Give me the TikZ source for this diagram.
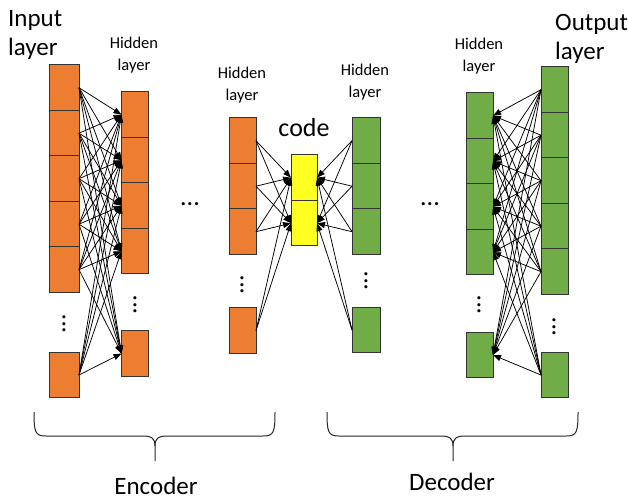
\documentclass[tikz,border=0pt]{standalone}
\usepackage{fontspec}
\setmainfont{Carlito}
\usetikzlibrary{arrows.meta}
\definecolor{encorange}{HTML}{ED7D31}
\definecolor{decgreen}{HTML}{70AD47}
\definecolor{codeyellow}{HTML}{FFFF22}

\begin{document}
\begin{tikzpicture}[
        x=1pt, y=-1pt,
        line/.style={-{Triangle[length=8pt, width=6pt]}, line width=0.75pt},
        cell/.style={draw=black!80, line width=1pt, inner sep=0pt, outer sep=0pt, minimum height=45.5pt},
        enccell/.style={cell, fill=encorange},
        deccell/.style={cell, fill=decgreen},
        codecell/.style={cell, fill=codeyellow},
        biglabel/.style={font=\fontsize{25}{29}\selectfont, align=left, anchor=base west, inner sep=0pt},
        smalllabel/.style={font=\fontsize{16.5}{22}\selectfont, align=center, anchor=base, inner sep=0pt},
        partlabel/.style={font=\fontsize{25}{29}\selectfont, anchor=base, inner sep=0pt},
        dots/.style={font=\fontsize{26}{26}\selectfont, inner sep=0pt},
        brace/.style={line width=1pt, black!85}
    ]
    \useasboundingbox (0,0) rectangle (628,500);

    % columns of cells
    \foreach \i in {1,...,5}
        \node[enccell, minimum width=30pt] (in\i) at (64, {87.7+45.5*(\i-1)}) {};
    \node[enccell, minimum width=30pt] (in6) at (64, 375) {};

    \foreach \i in {1,...,4}
        \node[enccell, minimum width=27pt] (ea\i) at (135, {114.7+45.5*(\i-1)}) {};
    \node[enccell, minimum width=27pt] (ea5) at (135, 353.5) {};

    \foreach \i in {1,...,3}
        \node[enccell, minimum width=27pt] (eb\i) at (242.5, {140.7+45.5*(\i-1)}) {};
    \node[enccell, minimum width=27pt] (eb4) at (242.5, 330.5) {};

    \node[codecell, minimum width=26pt] (code1) at (304, 177.7) {};
    \node[codecell, minimum width=26pt] (code2) at (304, 223.2) {};

    \foreach \i in {1,...,3}
        \node[deccell, minimum width=28pt] (da\i) at (366, {140.7+45.5*(\i-1)}) {};
    \node[deccell, minimum width=28pt] (da4) at (366, 330) {};

    \foreach \i in {1,...,4}
        \node[deccell, minimum width=27pt] (db\i) at (479.5, {115.7+45.5*(\i-1)}) {};
    \node[deccell, minimum width=27pt] (db5) at (479.5, 355) {};

    \foreach \i in {1,...,5}
        \node[deccell, minimum width=27pt] (out\i) at (554.5, {89.7+45.5*(\i-1)}) {};
    \node[deccell, minimum width=27pt] (out6) at (554.5, 375) {};

    % connections
    \foreach \i in {1,...,6}
        \foreach \j in {1,...,5}
            \draw[line] (in\i.east) -- (ea\j.west);
    \foreach \i in {1,...,4}
        \foreach \j in {1,2}
            \draw[line] (eb\i.east) -- (code\j.west);
    \foreach \i in {1,...,4}
        \foreach \j in {1,2}
            \draw[line] (da\i.west) -- (code\j.east);
    \foreach \i in {1,...,6}
        \foreach \j in {1,...,5}
            \draw[line] (out\i.west) -- (db\j.east);

    % labels (base = last line)
    \node[biglabel] (inlabel) at (8,56) {Input\\layer};
    \node[biglabel] (outlabel) at (555,60) {Output\\layer};
    \node[smalllabel] (ealabel) at (134,71) {Hidden\\layer};
    \node[smalllabel] (eblabel) at (242,101) {Hidden\\layer};
    \node[smalllabel] (dalabel) at (365,98) {Hidden\\layer};
    \node[smalllabel] (dblabel) at (479,72) {Hidden\\layer};
    \node[font=\fontsize{26}{30}\selectfont, anchor=base, inner sep=0pt] (codelabel) at (304,136) {code};
    \node[partlabel] (enclabel) at (156,494) {Encoder};
    \node[partlabel] (declabel) at (452,490) {Decoder};

    % dots
    \node[dots] (hdots1) at (190,204) {...};
    \node[dots] (hdots2) at (430,204) {...};
    \node[dots, rotate=90] (vdots1) at (64,324) {...};
    \node[dots, rotate=90] (vdots2) at (135,305) {...};
    \node[dots, rotate=90] (vdots3) at (242,285) {...};
    \node[dots, rotate=90] (vdots4) at (366,281) {...};
    \node[dots, rotate=90] (vdots5) at (479,305) {...};
    \node[dots, rotate=90] (vdots6) at (554,327) {...};

    % braces
    \draw[brace] (34,412) .. controls (34,432) and (35,436) .. (46,436) -- (144,436)
        .. controls (151,436) and (155,438) .. (155,446) -- (155,461);
    \draw[brace] (275,412) .. controls (275,432) and (274,436) .. (263,436) -- (166,436)
        .. controls (159,436) and (155,438) .. (155,446);
    \draw[brace] (327,412) .. controls (327,432) and (328,436) .. (339,436) -- (442,436)
        .. controls (449,436) and (453,438) .. (453,446) -- (453,461);
    \draw[brace] (578,412) .. controls (578,432) and (577,436) .. (566,436) -- (464,436)
        .. controls (457,436) and (453,438) .. (453,446);

\end{tikzpicture}
\end{document}
